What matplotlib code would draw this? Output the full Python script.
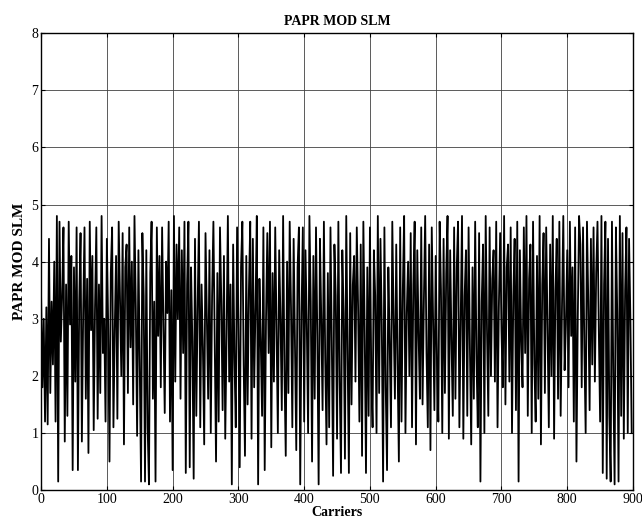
import numpy as np
import matplotlib.pyplot as plt

# PAPR values (one sample every 2 carriers)
papr = [
    3.4, 1.8, 3.0, 1.2, 3.2, 1.15, 4.4, 1.7, 3.3, 2.2,
    4.0, 1.2, 4.8, 0.15, 4.7, 2.6, 3.4, 4.6, 0.85, 3.6,
    1.3, 4.7, 2.9, 4.1, 0.35, 3.9, 1.9, 4.6, 0.35, 3.3,
    4.5, 0.85, 3.1, 4.6, 1.6, 3.7, 0.65, 4.7, 2.8, 4.1,
    1.05, 3.2, 4.6, 1.25, 3.6, 1.7, 4.8, 2.4, 3.0, 1.2,
    4.4, 2.9, 0.5, 3.8, 4.6, 1.1, 2.8, 4.1, 1.25, 4.7,
    3.3, 2.0, 4.5, 0.8, 3.9, 4.3, 1.7, 4.6, 2.5, 4.0,
    1.5, 4.8, 3.2, 0.95, 4.2, 2.2, 0.15, 4.5, 3.4, 0.15,
    4.2, 1.1, 0.1, 3.8, 4.7, 1.6, 3.3, 0.15, 4.6, 2.7,
    4.1, 1.8, 4.6, 2.9, 1.35, 4.0, 3.1, 4.7, 1.2, 3.5,
    0.35, 4.8, 1.9, 4.3, 3.0, 4.6, 1.6, 4.2, 2.4, 4.7,
    0.3, 3.6, 4.7, 0.4, 3.9, 2.6, 0.2, 4.4, 1.3, 3.2,
    4.7, 1.1, 3.6, 2.5, 0.8, 4.5, 3.1, 1.6, 4.2, 1.0,
    3.4, 4.7, 2.6, 0.5, 3.8, 1.2, 4.6, 3.3, 1.4, 4.1,
    0.9, 2.7, 4.8, 1.9, 3.6, 0.1, 4.3, 2.3, 1.1, 4.6,
    2.9, 0.4, 3.9, 4.7, 2.2, 0.6, 4.1, 1.5, 3.5, 4.7,
    0.9, 4.4, 1.8, 3.2, 4.8, 0.1, 3.7, 2.6, 1.3, 4.6,
    0.35, 3.0, 4.5, 2.4, 4.7, 0.75, 3.8, 1.9, 4.6, 2.8,
    1.0, 4.2, 3.0, 1.4, 4.8, 2.1, 0.6, 4.0, 1.7, 4.7,
    3.2, 1.1, 4.4, 2.5, 0.7, 3.9, 4.6, 0.1, 3.1, 4.6,
    1.2, 4.2, 2.9, 1.0, 4.8, 3.3, 0.5, 4.1, 1.6, 4.6,
    2.7, 0.1, 4.4, 3.0, 1.4, 4.7, 2.3, 0.8, 3.8, 1.1,
    4.6, 2.6, 0.25, 4.3, 3.4, 0.9, 4.7, 1.9, 0.3, 4.2,
    3.1, 0.55, 4.8, 2.4, 0.3, 4.5, 1.5, 3.6, 4.1, 1.9,
    4.6, 3.2, 1.2, 4.3, 0.6, 4.7, 2.8, 0.3, 3.9, 1.3,
    4.6, 2.1, 1.1, 4.2, 3.4, 1.0, 4.8, 1.7, 4.4, 2.9,
    0.15, 4.6, 1.8, 0.35, 3.9, 2.6, 1.1, 4.7, 3.0, 1.6,
    4.3, 2.2, 0.5, 4.6, 1.2, 3.5, 4.8, 1.0, 3.1, 4.0,
    2.0, 4.5, 1.1, 3.6, 4.7, 0.8, 4.2, 2.7, 1.6, 4.6,
    1.5, 3.3, 4.8, 2.4, 1.1, 4.3, 0.7, 4.6, 3.0, 1.4,
    4.1, 2.2, 1.2, 4.7, 3.5, 1.0, 4.4, 1.7, 3.8, 4.8,
    0.9, 4.2, 2.6, 1.3, 4.6, 1.6, 3.9, 4.7, 1.1, 2.9,
    4.8, 0.9, 3.4, 4.2, 1.3, 4.6, 2.5, 0.8, 3.9, 1.6,
    4.7, 2.3, 1.1, 4.5, 0.15, 3.3, 4.3, 1.0, 4.8, 2.8,
    1.3, 4.6, 2.0, 3.7, 4.2, 1.9, 4.7, 1.1, 3.2, 4.5,
    2.8, 1.8, 4.8, 1.5, 3.9, 4.3, 1.9, 4.6, 1.0, 3.4,
    4.4, 1.4, 4.7, 0.15, 4.2, 2.6, 1.8, 4.6, 2.4, 4.8,
    1.3, 3.7, 4.3, 1.0, 4.7, 2.2, 1.2, 4.1, 1.6, 4.8,
    0.8, 3.6, 4.5, 1.7, 4.6, 2.9, 1.1, 4.3, 2.0, 4.8,
    0.9, 3.5, 4.4, 1.6, 4.7, 1.3, 3.2, 4.8, 2.1, 2.9,
    4.2, 1.8, 4.7, 2.7, 3.9, 1.2, 4.6, 0.5, 3.0, 4.8,
    4.3, 1.8, 4.6, 2.5, 1.0, 4.7, 3.3, 1.4, 4.4, 2.2,
    4.6, 1.9, 3.8, 4.7, 2.8, 1.2, 4.8, 0.3, 3.6, 4.7,
    0.2, 4.4, 1.3, 0.15, 4.7, 2.0, 0.1, 4.6, 3.1, 0.15,
    4.8, 1.3, 4.5, 0.9, 3.5, 4.6, 1.0, 4.4, 3.0, 1.0,
]
carriers = np.arange(len(papr)) * 2

plt.rcParams['font.family'] = ['Liberation Serif', 'DejaVu Serif']

fig = plt.figure(figsize=(6.42, 5.27), dpi=100)
ax = fig.add_axes([0.064, 0.070, 0.922, 0.867])
ax.plot(carriers, papr, color='black', linewidth=1.3)

ax.set_xlim(0, 900)
ax.set_ylim(0, 8)
ax.set_xticks(range(0, 901, 100))
ax.set_yticks(range(0, 9))
ax.grid(True, color='#404040', linewidth=0.6)
ax.tick_params(direction='in', top=True, right=True, labelsize=10, length=3, pad=2)
for s in ax.spines.values():
    s.set_linewidth(1.0)

ax.set_title('PAPR MOD SLM', fontsize=10, fontweight='bold', pad=6)
ax.set_xlabel('Carriers', fontsize=10, fontweight='bold', labelpad=0)
ax.set_ylabel('PAPR MOD SLM', fontsize=11, fontweight='bold', labelpad=4)

fig.savefig('out.png', dpi=100)
